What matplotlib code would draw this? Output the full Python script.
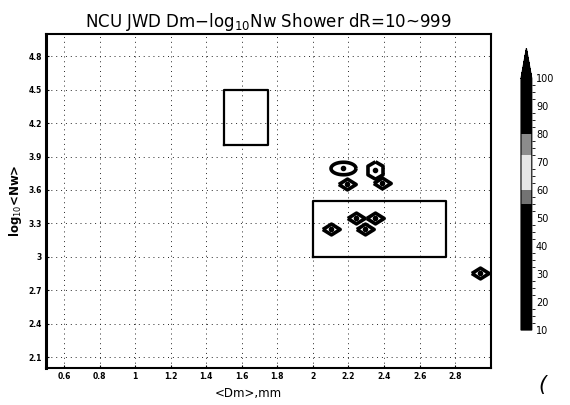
import matplotlib
matplotlib.use("Agg")
import matplotlib.pyplot as plt
import matplotlib.colors as mcolors
import numpy as np

# mean Dm (mm) and log10 Nw of the shower clusters
dm_vals = [2.17, 2.35, 2.19, 2.39, 2.24, 2.35, 2.10, 2.29, 2.94]
lognw_vals = [3.80, 3.78, 3.65, 3.66, 3.35, 3.35, 3.25, 3.25, 2.85]

# maritime / continental convective boxes: (Dm_min, Dm_max, logNw_min, logNw_max)
maritime_box = (1.5, 1.75, 4.0, 4.5)
continental_box = (2.0, 2.75, 3.0, 3.5)

x_ticks = [0.6, 0.8, 1, 1.2, 1.4, 1.6, 1.8, 2, 2.2, 2.4, 2.6, 2.8]
x_labels = ["0.6", "0.8", "1", "1.2", "1.4", "1.6", "1.8", "2", "2.2", "2.4", "2.6", "2.8"]
y_ticks = [2.1, 2.4, 2.7, 3, 3.3, 3.6, 3.9, 4.2, 4.5, 4.8]
y_labels = ["2.1", "2.4", "2.7", "3", "3.3", "3.6", "3.9", "4.2", "4.5", "4.8"]
cbar_ticks = [10, 20, 30, 40, 50, 60, 70, 80, 90, 100]

fig = plt.figure(figsize=(5.7, 4.05), dpi=100)
ax = fig.add_axes([0.081, 0.091, 0.780, 0.825])

ax.set_xlim(0.5, 3.0)
ax.set_ylim(2.0, 5.0)

ax.grid(True, color="0.15", linestyle=(0, (1, 4)), linewidth=0.7)
ax.set_axisbelow(True)

for x0, x1, y0, y1 in (maritime_box, continental_box):
    ax.plot([x0, x1, x1, x0, x0], [y0, y0, y1, y1, y0], color="black", lw=1.6)

# flattened diamond marker
diamond = [(-1, 0), (0, 0.62), (1, 0), (0, -0.62), (-1, 0)]
oval = [(np.cos(t), 0.5 * np.sin(t)) for t in np.linspace(0, 2 * np.pi, 40)]
hexagon = [(np.cos(t), np.sin(t)) for t in np.linspace(np.pi / 2, 2.5 * np.pi, 7)]

shapes = [oval, hexagon] + [diamond] * (len(dm_vals) - 2)
sizes = [18, 12.5] + [12.5] * (len(dm_vals) - 2)
for x, y, shp, sz in zip(dm_vals, lognw_vals, shapes, sizes):
    ax.plot(x, y, marker=shp, markersize=sz, markerfacecolor="white",
            markeredgecolor="black", markeredgewidth=2.6, zorder=4)
    ax.plot(x, y, marker="o", markersize=3, color="black", zorder=5)

ax.set_xticks(x_ticks)
ax.set_xticklabels(x_labels)
ax.set_yticks(y_ticks)
ax.set_yticklabels(y_labels)
ax.tick_params(axis="both", direction="in", length=2, width=0.8,
               labelsize=5.5, pad=3)
for lab in ax.get_xticklabels() + ax.get_yticklabels():
    lab.set_fontweight("bold")

ax.spines["left"].set_linewidth(2.2)
for side in ("top", "bottom", "right"):
    ax.spines[side].set_linewidth(1.5)

ax.set_title(r"NCU JWD Dm$-$log$_{10}$Nw Shower dR=10~999", fontsize=12, pad=5)
ax.set_xlabel("<Dm>,mm", fontsize=8.5, labelpad=4)
ax.xaxis.set_label_coords(0.455, -0.055)
ax.set_ylabel(r"log$_{10}$<Nw>", fontsize=8.5, fontweight="bold", labelpad=3)

# colour scale: black with pale band around 55-80
levels = np.arange(10, 102.5, 2.5)
cols = []
for lv in levels[:-1]:
    if 55 <= lv < 60:
        cols.append("0.45")
    elif 60 <= lv < 72.5:
        cols.append("0.9")
    elif 72.5 <= lv < 80:
        cols.append("0.55")
    else:
        cols.append("black")
cmap = mcolors.ListedColormap(cols)
cmap.set_over("black")
norm = mcolors.BoundaryNorm(levels, cmap.N)

cax = fig.add_axes([0.914, 0.185, 0.019, 0.696])
sm = plt.cm.ScalarMappable(norm=norm, cmap=cmap)
cb = fig.colorbar(sm, cax=cax, extend="max", extendfrac=0.12, ticks=cbar_ticks)
cb.outline.set_linewidth(0.8)
cb.ax.tick_params(length=0, labelsize=7, pad=3)

fig.text(0.945, 0.035, "(", fontsize=15, style="italic")

fig.savefig("out.png", dpi=100)
